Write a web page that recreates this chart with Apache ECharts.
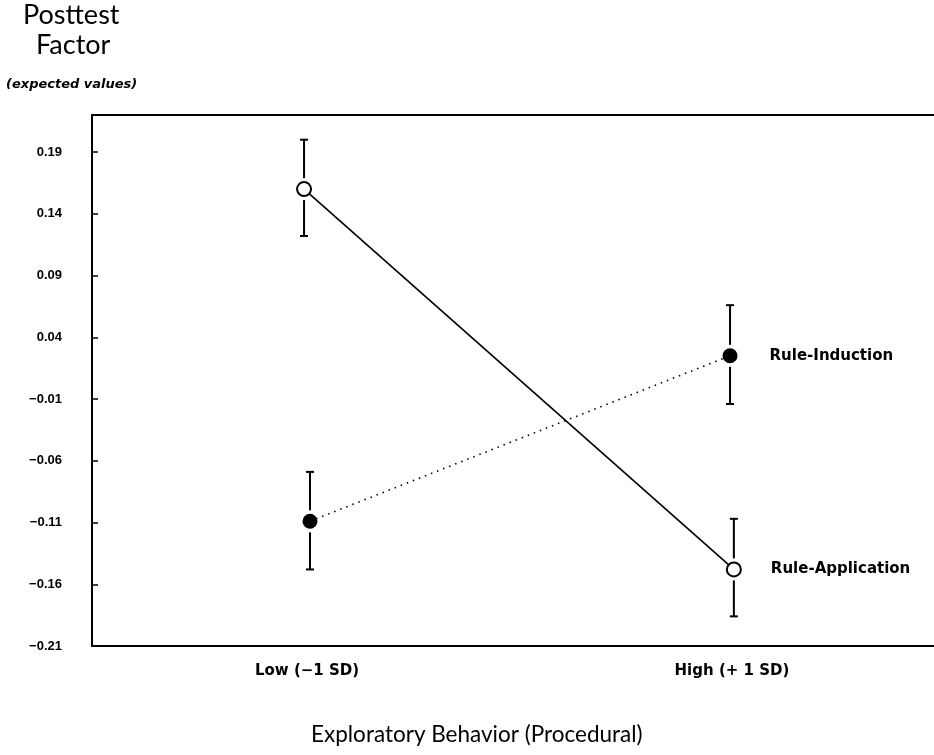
<!DOCTYPE html>
<html>
<head>
<meta charset="utf-8">
<script src="https://cdn.jsdelivr.net/npm/echarts@6/dist/echarts.min.js"></script>
<style>
html, body { margin: 0; padding: 0; background: #fff; }
#chart { width: 934px; height: 755px; }
</style>
</head>
<body>
<div id="chart"></div>
<script>
// categories on the x axis (Low = -1, High = +1)
const categories = ['Low (−1 SD)', 'High (+ 1 SD)']
const categoryX = [-1, 1]

// Rule-Application (open circles, solid line)
const applicationX = [-1.014, 1.009]
const applicationY = [0.160, -0.148]
const applicationLow = [0.122, -0.186]
const applicationHigh = [0.200, -0.107]

// Rule-Induction (filled circles, dotted line)
const inductionX = [-0.986, 0.991]
const inductionY = [-0.109, 0.025]
const inductionLow = [-0.148, -0.014]
const inductionHigh = [-0.069, 0.066]

// y axis ticks: -0.21 ... 0.19 step 0.05
const yMin = -0.21
const yMax = 0.22
const yStep = 0.05

const THIN = 'Lato, "DejaVu Sans", sans-serif'
const WIDE = '"DejaVu Sans", Lato, sans-serif'
const NUM = '"Liberation Sans", Arial, sans-serif'

function pairs(xs, ys) {
  return xs.map((x, i) => ({
    value: [x, ys[i]],
    label: { show: i === xs.length - 1 }
  }))
}

function bars(xs, lows, highs, ys) {
  return xs.map((x, i) => [x, lows[i], highs[i], ys[i]])
}

// error bar with a gap round the marker
function errorBar(params, api) {
  const x = api.value(0)
  const top = api.coord([x, api.value(2)])
  const mid = api.coord([x, api.value(3)])
  const bot = api.coord([x, api.value(1)])
  const gap = 11
  const cap = 4
  const style = { stroke: '#000', lineWidth: 2 }
  return {
    type: 'group',
    children: [
      { type: 'line', shape: { x1: top[0], y1: top[1], x2: top[0], y2: mid[1] - gap }, style },
      { type: 'line', shape: { x1: top[0], y1: mid[1] + gap, x2: top[0], y2: bot[1] }, style },
      { type: 'line', shape: { x1: top[0] - cap, y1: top[1], x2: top[0] + cap, y2: top[1] }, style },
      { type: 'line', shape: { x1: top[0] - cap, y1: bot[1], x2: top[0] + cap, y2: bot[1] }, style }
    ]
  }
}

const chart = echarts.init(document.getElementById('chart'))

const xMin = -2.012
const xMax = 1.951

const option = {
  backgroundColor: '#fff',
  animation: false,
  grid: { left: 92, right: 0, top: 115, bottom: 109, containLabel: false },
  graphic: [
    { type: 'text', left: 23, top: 2, style: { text: 'Posttest', font: '27px ' + THIN, fill: '#000' } },
    { type: 'text', left: 36, top: 32, style: { text: 'Factor', font: '27px ' + THIN, fill: '#000' } },
    { type: 'text', left: 6, top: 78, style: { text: '(expected values)', font: 'italic bold 13px ' + WIDE, fill: '#000' } },
    { type: 'text', left: 311, top: 723, style: { text: 'Exploratory Behavior (Procedural)', font: '22.5px ' + THIN, fill: '#000' } }
  ],
  xAxis: [
    {
      type: 'value',
      min: xMin,
      max: xMax,
      splitLine: { show: false },
      axisLine: { show: true, onZero: false, lineStyle: { color: '#000', width: 2 } },
      axisTick: { show: false },
      axisLabel: {
        customValues: categoryX,
        margin: 18,
        color: '#000',
        fontFamily: WIDE,
        fontWeight: 'bold',
        fontSize: 15,
        formatter: v => categories[categoryX.indexOf(v)] || ''
      }
    },
    {
      type: 'value',
      position: 'top',
      min: xMin,
      max: xMax,
      splitLine: { show: false },
      axisLine: { show: true, onZero: false, lineStyle: { color: '#000', width: 2 } },
      axisTick: { show: false },
      axisLabel: { show: false }
    }
  ],
  yAxis: {
    type: 'value',
    min: yMin,
    max: yMax,
    interval: yStep,
    splitLine: { show: false },
    axisLine: { show: true, onZero: false, lineStyle: { color: '#000', width: 2 } },
    axisTick: { show: true, inside: true, length: 6, lineStyle: { color: '#000', width: 1.5 } },
    axisLabel: {
      showMaxLabel: false,
      margin: 30,
      color: '#000',
      fontFamily: NUM,
      fontWeight: 'bold',
      fontSize: 13,
      formatter: v => v.toFixed(2).replace('-', '−')
    }
  },
  series: [
    {
      type: 'custom',
      renderItem: errorBar,
      encode: { x: 0, y: [1, 2] },
      data: bars(applicationX, applicationLow, applicationHigh, applicationY),
      z: 1
    },
    {
      type: 'custom',
      renderItem: errorBar,
      encode: { x: 0, y: [1, 2] },
      data: bars(inductionX, inductionLow, inductionHigh, inductionY),
      z: 1
    },
    {
      name: 'Rule-Application',
      type: 'line',
      data: pairs(applicationX, applicationY),
      symbol: 'circle',
      symbolSize: 14,
      lineStyle: { color: '#000', width: 1.6 },
      itemStyle: { color: '#fff', borderColor: '#000', borderWidth: 2 },
      label: {
        position: 'right',
        distance: 29,
        formatter: '{a}',
        color: '#000',
        fontFamily: WIDE,
        fontWeight: 'bold',
        fontSize: 15
      },
      z: 3
    },
    {
      name: 'Rule-Induction',
      type: 'line',
      data: pairs(inductionX, inductionY),
      symbol: 'circle',
      symbolSize: 15,
      lineStyle: { color: '#000', width: 1.6, type: [1.5, 5] },
      itemStyle: { color: '#000', borderColor: '#000', borderWidth: 0 },
      label: {
        position: 'right',
        distance: 32,
        formatter: '{a}',
        color: '#000',
        fontFamily: WIDE,
        fontWeight: 'bold',
        fontSize: 15
      },
      z: 3
    }
  ]
}

chart.setOption(option)
</script>
</body>
</html>
